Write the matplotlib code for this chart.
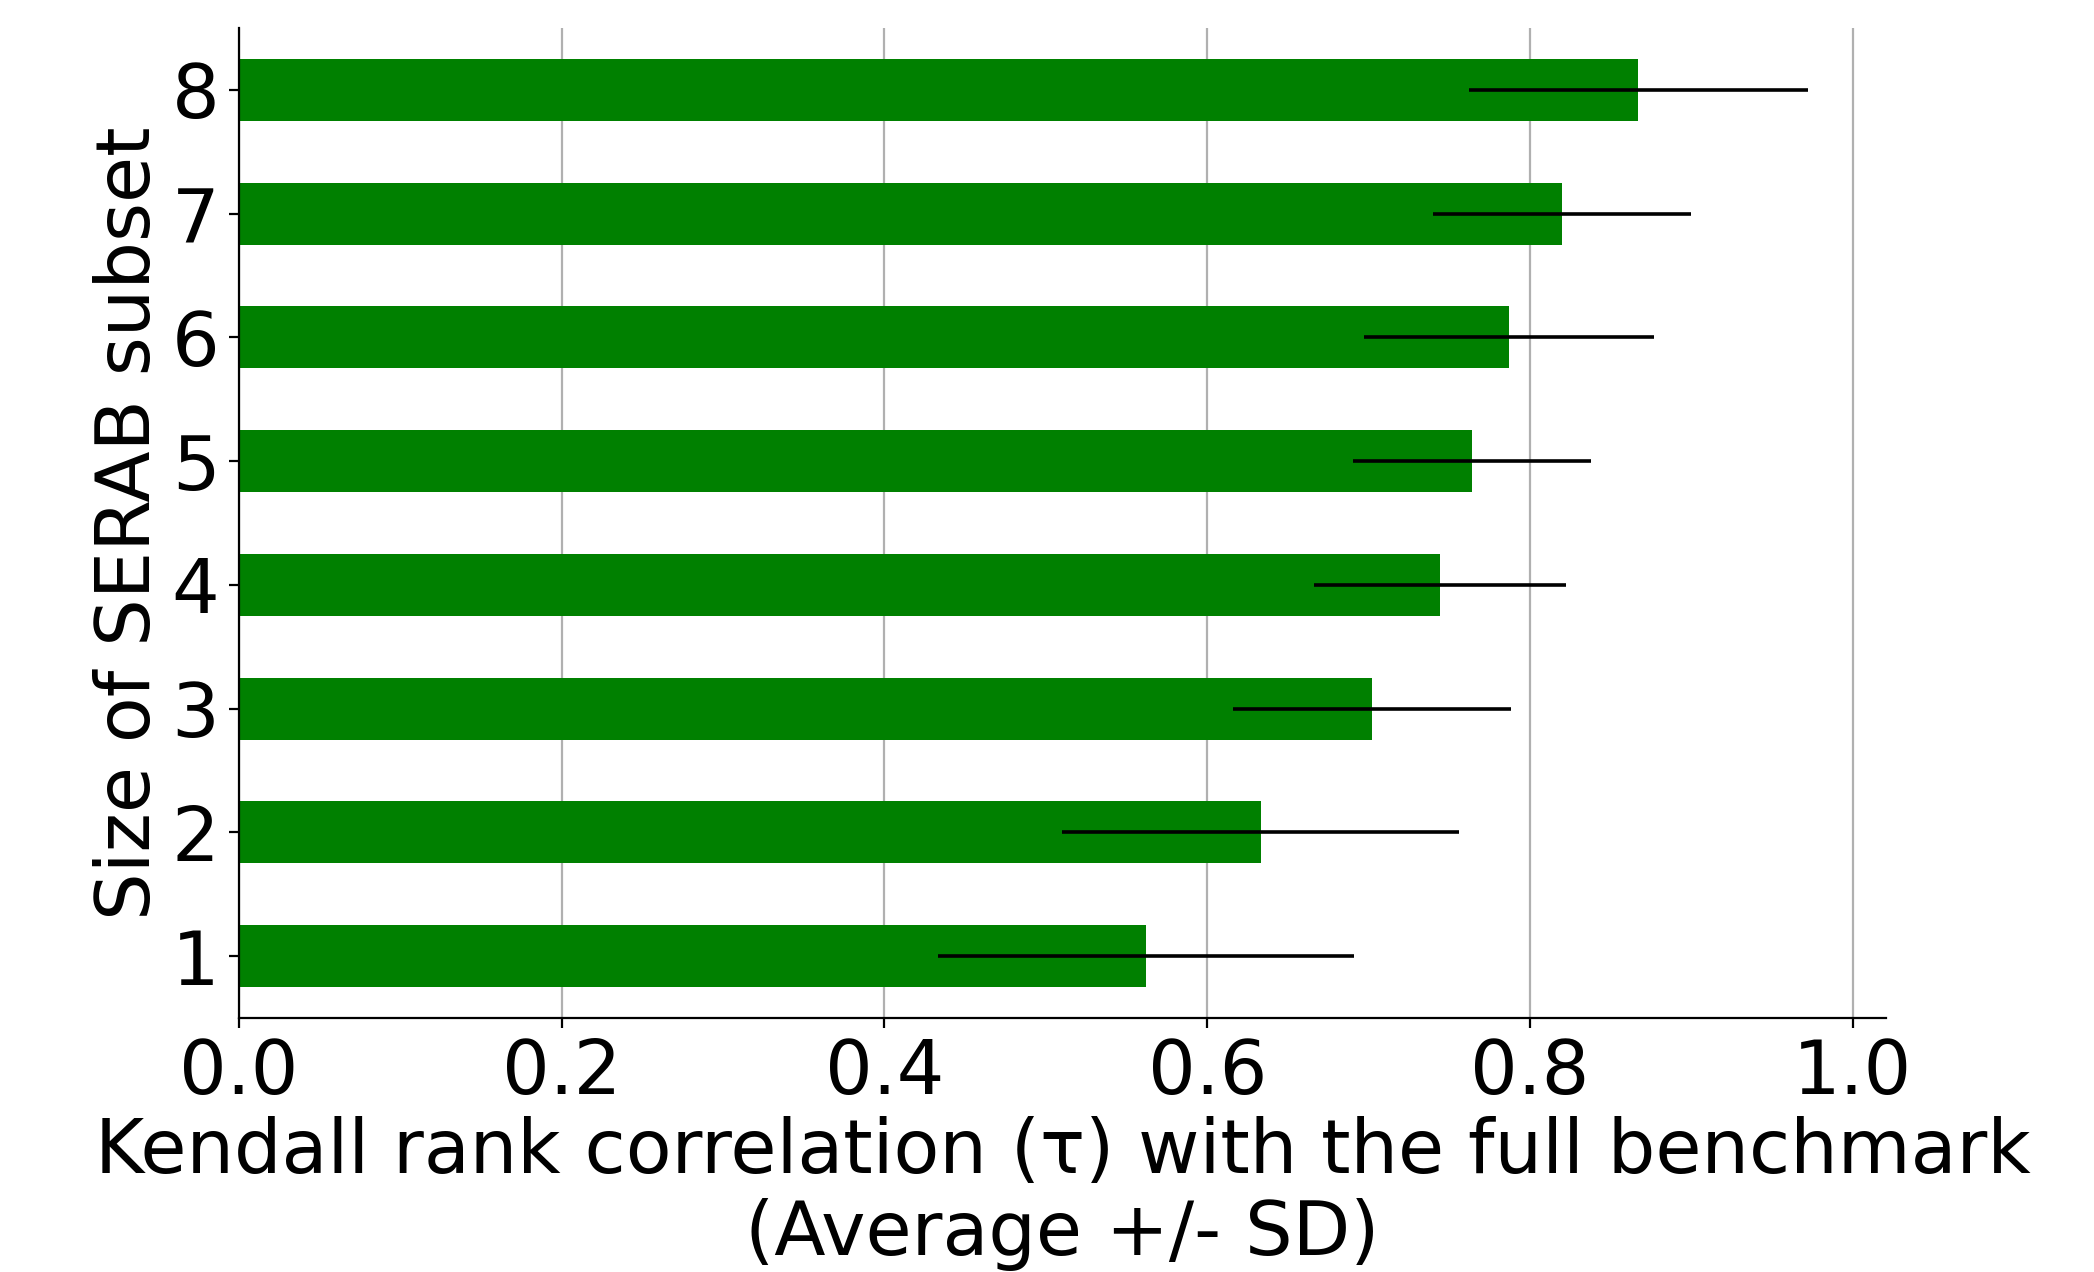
import matplotlib

matplotlib.use("Agg")
import matplotlib.pyplot as plt
import numpy as np

# Kendall tau of each SERAB subset size against the full benchmark
subset_sizes = ["1", "2", "3", "4", "5", "6", "7", "8"]
tau_mean = [0.562, 0.633, 0.702, 0.744, 0.764, 0.787, 0.820, 0.867]
tau_sd = [0.129, 0.123, 0.086, 0.078, 0.074, 0.090, 0.080, 0.105]

plt.rcParams["font.family"] = ["DejaVu Sans"]
plt.rcParams["font.size"] = 27.0

fig = plt.figure(figsize=(10.47, 6.36), dpi=200)
ax = fig.add_axes((0.1141, 0.1997, 0.7866, 0.7783))

y = np.arange(len(subset_sizes))
ax.barh(
    y,
    tau_mean,
    height=0.5,
    xerr=tau_sd,
    color="green",
    error_kw={"ecolor": "black", "elinewidth": 1.3, "capsize": 0},
    zorder=2,
)
ax.set_yticks(y, subset_sizes)
ax.set_ylim(-0.5, len(subset_sizes) - 0.5)
ax.set_xticks([0.0, 0.2, 0.4, 0.6, 0.8, 1.0])

ax.set_ylabel("Size of SERAB subset", labelpad=2)
ax.set_xlabel("Kendall rank correlation (τ) with the full benchmark\n(Average +/- SD)",
              labelpad=2, linespacing=1.15)

ax.grid(axis="x", color="#b0b0b0", linewidth=0.8, zorder=0)
ax.set_axisbelow(True)
ax.spines[["top", "right"]].set_visible(False)

fig.savefig("out.png", dpi=200, facecolor="white")
plt.close(fig)
